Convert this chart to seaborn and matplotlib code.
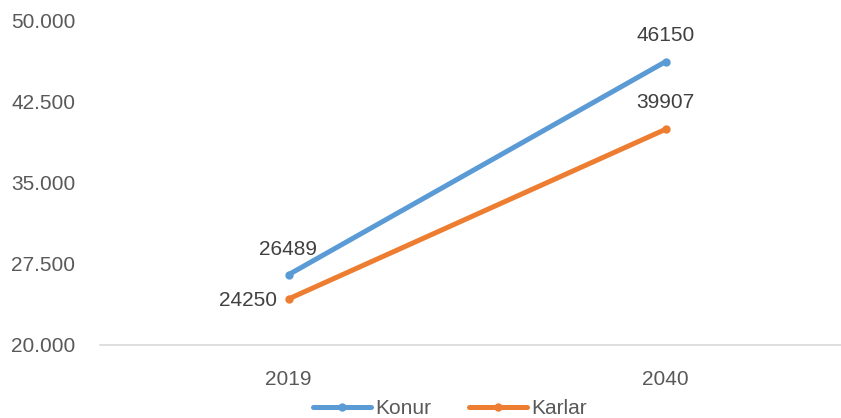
import pandas as pd
import matplotlib
matplotlib.use("Agg")
from matplotlib import pyplot as plt
from matplotlib.ticker import FuncFormatter
import seaborn as sns

# Data
years = ["2019", "2040"]
konur = [26489, 46150]
karlar = [24250, 39907]
series_names = ["Konur", "Karlar"]
colors = ["#5B9BD5", "#ED7D31"]
y_ticks = [20000, 27500, 35000, 42500, 50000]

df = pd.DataFrame({
    "Year": years * 2,
    "Value": konur + karlar,
    "Series": [series_names[0]] * 2 + [series_names[1]] * 2,
})

sns.set_style("white")
plt.rcParams["font.family"] = ["Liberation Sans", "DejaVu Sans"]
text_color = "#595959"

fig = plt.figure(figsize=(8.41, 4.18), dpi=100)
ax = fig.add_axes([100 / 841, 73 / 418, 754 / 841, 325 / 418])

sns.lineplot(data=df, x="Year", y="Value", hue="Series", palette=colors,
             marker="o", markersize=6, markeredgewidth=0, linewidth=3.6,
             ax=ax, legend=False)

ax.set_xlim(-0.5, 1.5)
ax.set_ylim(y_ticks[0], y_ticks[-1])
ax.set_yticks(y_ticks)
ax.yaxis.set_major_formatter(FuncFormatter(lambda v, p: f"{int(v):,}".replace(",", ".")))
ax.set_xlabel("")
ax.set_ylabel("")
ax.tick_params(axis="both", length=0, labelsize=15, colors=text_color)
ax.tick_params(axis="x", pad=18)
# labels start near the left edge of the figure (pad is in points)
ax.tick_params(axis="y", pad=64)
for lbl in ax.get_yticklabels():
    lbl.set_horizontalalignment("left")

for s in ["top", "right", "left"]:
    ax.spines[s].set_visible(False)
ax.spines["bottom"].set_color("#D9D9D9")
ax.spines["bottom"].set_linewidth(1.2)

# data labels
ax.annotate(str(konur[0]), (0, konur[0]), xytext=(0, 18), textcoords="offset points",
            ha="center", va="center", fontsize=15, color="#404040")
ax.annotate(str(karlar[0]), (0, karlar[0]), xytext=(-8, -1), textcoords="offset points",
            ha="right", va="center", fontsize=15, color="#404040")
ax.annotate(str(konur[1]), (1, konur[1]), xytext=(0, 19), textcoords="offset points",
            ha="center", va="center", fontsize=15, color="#404040")
ax.annotate(str(karlar[1]), (1, karlar[1]), xytext=(0, 19), textcoords="offset points",
            ha="center", va="center", fontsize=15, color="#404040")

handles = [plt.Line2D([], [], color=c, linewidth=3.6, marker="o", markersize=6,
                      markeredgewidth=0) for c in colors]
leg = fig.legend(handles, series_names, loc="center", bbox_to_anchor=(450 / 841, 9 / 418),
                 ncol=2, frameon=False, fontsize=15, handlelength=2.8, handletextpad=0.2,
                 columnspacing=1.8)
for t in leg.get_texts():
    t.set_color(text_color)

fig.savefig("out.png", dpi=100)
